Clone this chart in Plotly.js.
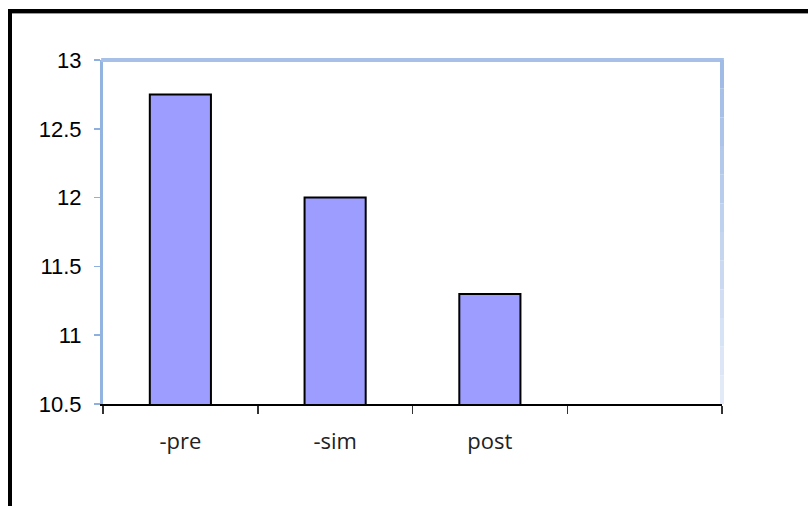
<!DOCTYPE html>
<html>
<head>
<meta charset="utf-8">
<script src="https://cdn.plot.ly/plotly-3.0.1.min.js"></script>
<style>
html,body{margin:0;padding:0;background:#fff;}
#chart{width:808px;height:506px;}
</style>
</head>
<body>
<div id="chart"></div>
<script>
const categories = ["-pre", "-sim", "post"];
const values = [12.75, 12.0, 11.3];
const yTicks = [10.5, 11, 11.5, 12, 12.5, 13];
const categoryCount = 4;

const positions = categories.map((c, i) => i);
const boundaries = [];
for (let i = 0; i <= categoryCount; i++) boundaries.push(i - 0.5);

const trace = {
  type: "bar",
  x: positions,
  y: values,
  width: 0.395,
  marker: {color: "#9d9dff", line: {color: "#000000", width: 2}},
  hoverinfo: "skip"
};

// right frame line with fading colour
const rightShapes = [];
const nSeg = 12;
const c0 = [160, 188, 230], c1 = [226, 234, 248];
for (let k = 0; k < nSeg; k++) {
  const t = k / (nSeg - 1);
  const col = c0.map((v, j) => Math.round(v + (c1[j] - v) * t));
  rightShapes.push({
    type: "line", xref: "paper", yref: "paper",
    x0: 1, x1: 1, y0: 1 - k / nSeg, y1: 1 - (k + 1) / nSeg,
    line: {color: "rgb(" + col.join(",") + ")", width: 4}
  });
}

const W = 619, H = 344;
const shapes = [
  {type: "line", xref: "paper", yref: "paper", x0: -0.003, x1: 1.003, y0: 1, y1: 1,
   line: {color: "#a6c0e8", width: 4}},
  ...rightShapes,
  // outer black frame (left & top)
  {type: "line", xref: "paper", yref: "paper",
   x0: (10 - 103) / W, x1: (10 - 103) / W, y0: (404 - 9) / H, y1: (404 - 520) / H,
   line: {color: "#000000", width: 4}},
  {type: "line", xref: "paper", yref: "paper",
   x0: (8 - 103) / W, x1: (820 - 103) / W, y0: (404 - 11) / H, y1: (404 - 11) / H,
   line: {color: "#000000", width: 4}},
  {type: "line", xref: "paper", yref: "paper",
   x0: (12 - 103) / W, x1: (820 - 103) / W, y0: (404 - 13.5) / H, y1: (404 - 13.5) / H,
   line: {color: "#9a9a9a", width: 1}}
];

const layout = {
  width: 808, height: 506,
  margin: {l: 103, r: 86, t: 60, b: 102},
  paper_bgcolor: "#ffffff", plot_bgcolor: "#ffffff",
  showlegend: false,
  xaxis: {
    range: [-0.5, categoryCount - 0.5],
    tickmode: "array", tickvals: positions, ticktext: categories,
    ticks: "", showgrid: false, zeroline: false,
    showline: true, linecolor: "#000000", linewidth: 1.5,
    tickfont: {family: "Open Sans", size: 22, color: "#222222"},
    ticklabelstandoff: 17,
    minor: {tickmode: "array", tickvals: boundaries, ticks: "outside", ticklen: 8,
            tickwidth: 1.5, tickcolor: "#333333", showgrid: false},
    fixedrange: true
  },
  yaxis: {
    range: [10.5, 13],
    tickmode: "array", tickvals: yTicks,
    ticks: "outside", ticklen: 6, tickwidth: 1.5, tickcolor: "#8fb0de",
    showgrid: false, zeroline: false,
    showline: true, linecolor: "#93b3e0", linewidth: 3,
    tickfont: {family: "Liberation Sans, Arial", size: 22, color: "#000000"},
    ticklabelstandoff: 8,
    fixedrange: true
  },
  shapes: shapes
};

Plotly.newPlot("chart", [trace], layout, {displayModeBar: false, staticPlot: true});
</script>
</body>
</html>
